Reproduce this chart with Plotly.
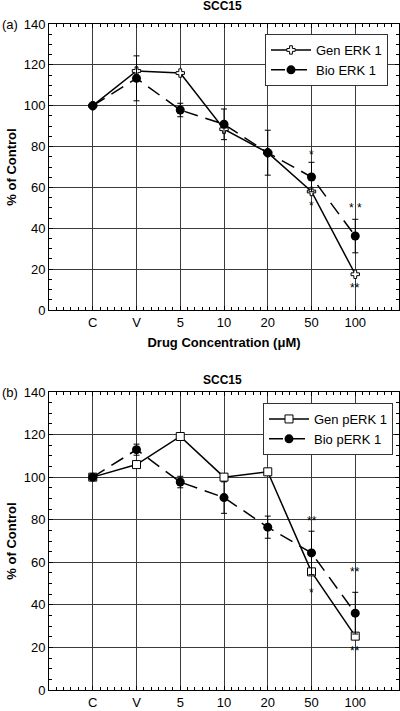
import plotly.graph_objects as go

# ---------------- data ----------------
categories = ["C", "V", "5", "10", "20", "50", "100"]

gen_erk = [100, 117, 116, 88.5, 77, 58, 17.5]
bio_erk = [100, 113.4, 97.9, 90.9, 77, 65.1, 36.2]
bio_erk_err = [0, 11, 3.3, 7.5, 11, 7.2, 8.2]

gen_perk = [100, 105.9, 119.1, 100, 102.5, 55.5, 25.3]
bio_perk = [100, 112.9, 97.7, 90.4, 76.5, 64.4, 36.1]
bio_perk_err = [0, 2.6, 2.7, 7.4, 5.2, 10.2, 9.8]

# significance marks: (category, value, text)
sig_a = [("50", 75.9, "*"), ("50", 50.9, "*"), ("100", 49.8, "* *"), ("100", 10.9, "**")]
sig_b = [("50", 79.5, "**"), ("50", 45.4, "*"), ("100", 55.5, "**"), ("100", 18.3, "**")]

y_ticks = [0, 20, 40, 60, 80, 100, 120, 140]

# ---------------- figure ----------------
FONT = "Liberation Sans, Arial, sans-serif"
xs = list(range(len(categories)))
pos = {c: i for i, c in enumerate(categories)}

fig = go.Figure()

def add_panel(fig, gen, bio, bio_err, gen_name, bio_name, gen_symbol, gen_size, xa, ya, legend):
    fig.add_trace(go.Scatter(
        x=xs, y=gen, name=gen_name, mode="lines+markers",
        line=dict(color="black", width=1.5),
        marker=dict(symbol=gen_symbol, size=gen_size, color="white",
                    line=dict(color="black", width=1)),
        xaxis=xa, yaxis=ya, legend=legend))
    fig.add_trace(go.Scatter(
        x=xs, y=bio, name=bio_name, mode="lines+markers",
        line=dict(color="black", width=1.5, dash="14px,8px"),
        marker=dict(symbol="circle", size=9, color="black"),
        error_y=dict(type="data", array=bio_err, visible=True,
                     color="black", thickness=1, width=3),
        xaxis=xa, yaxis=ya, legend=legend))

add_panel(fig, gen_erk, bio_erk, bio_erk_err, "Gen ERK 1", "Bio ERK 1",
          "cross", 7, "x", "y", "legend")
add_panel(fig, gen_perk, bio_perk, bio_perk_err, "Gen pERK 1", "Bio pERK 1",
          "square", 8, "x2", "y2", "legend2")

grid_col = "#3a3a3a"

def xaxis_cfg(domain_anchor, title=None):
    d = dict(
        domain=[49 / 400, 399 / 400], anchor=domain_anchor, automargin=False,
        range=[-1, 7], tickvals=xs, ticktext=categories,
        showgrid=True, gridcolor=grid_col, gridwidth=1, zeroline=False,
        showline=True, linecolor="black", linewidth=1, mirror="ticks",
        ticks="inside", ticklen=4, tickcolor="black",
        minor=dict(dtick=1 / 6, tick0=0, ticks="inside", ticklen=3,
                   tickcolor="black", showgrid=False),
        tickfont=dict(family=FONT, size=13, color="black"),
        fixedrange=True,
    )
    if title:
        d["title"] = dict(text=title, font=dict(family=FONT, size=13, color="black"),
                          standoff=9)
    return d

def yaxis_cfg(domain, anchor):
    return dict(
        domain=domain, anchor=anchor, automargin=False, range=[0, 140], tickvals=y_ticks,
        showgrid=True, gridcolor=grid_col, gridwidth=1, zeroline=False,
        showline=True, linecolor="black", linewidth=1, mirror="ticks",
        ticks="inside", ticklen=4, tickcolor="black",
        minor=dict(dtick=5, tick0=0, ticks="inside", ticklen=3,
                   tickcolor="black", showgrid=False),
        tickfont=dict(family=FONT, size=13, color="black"),
        title=dict(text="<b>% of Control</b>", font=dict(family=FONT, size=13, color="black"),
                   standoff=4),
        fixedrange=True,
    )

H = 711.0
legend_common = dict(xanchor="left", yanchor="top",
                     bgcolor="white", bordercolor="#333", borderwidth=1,
                     font=dict(family=FONT, size=13, color="black"),
                     tracegroupgap=0, itemwidth=40)
fig.update_layout(
    width=400, height=711,
    margin=dict(l=0, r=0, t=0, b=0),
    paper_bgcolor="white", plot_bgcolor="white",
    font=dict(family=FONT, color="black"),
    xaxis=xaxis_cfg("y", "<b>Drug Concentration (\u03bcM)</b>"),
    yaxis=yaxis_cfg([1 - 310 / H, 1 - 24 / H], "x"),
    xaxis2=xaxis_cfg("y2"),
    yaxis2=yaxis_cfg([1 - 690 / H, 1 - 392 / H], "x2"),
    legend=dict(x=265 / 400, y=1 - 34 / H, **legend_common),
    legend2=dict(x=263 / 400, y=1 - 403 / H, **legend_common),
    showlegend=True,
)

ann = []
for xa, ya, sig in (("x", "y", sig_a), ("x2", "y2", sig_b)):
    for cat, val, txt in sig:
        ann.append(dict(x=pos[cat], y=val, xref=xa, yref=ya, text=txt,
                        showarrow=False, font=dict(family=FONT, size=12, color="black")))

# titles and panel labels
for ytitle in (6, 380):
    ann.append(dict(x=0.555, y=1 - ytitle / H, xref="paper", yref="paper",
                    text="<b>SCC15</b>", xanchor="center", yanchor="middle",
                    showarrow=False, font=dict(family=FONT, size=12, color="black")))
for ylab, lab in ((24, "(a)"), (392, "(b)")):
    ann.append(dict(x=0, y=1 - ylab / H, xref="paper", yref="paper", text=lab,
                    xanchor="left", yanchor="middle",
                    showarrow=False, font=dict(family=FONT, size=13, color="black")))
fig.update_layout(annotations=ann)

fig.write_html("out.html",
               config={"displayModeBar": False},
               post_script="document.body.style.margin='0';document.body.style.overflow='hidden';")
